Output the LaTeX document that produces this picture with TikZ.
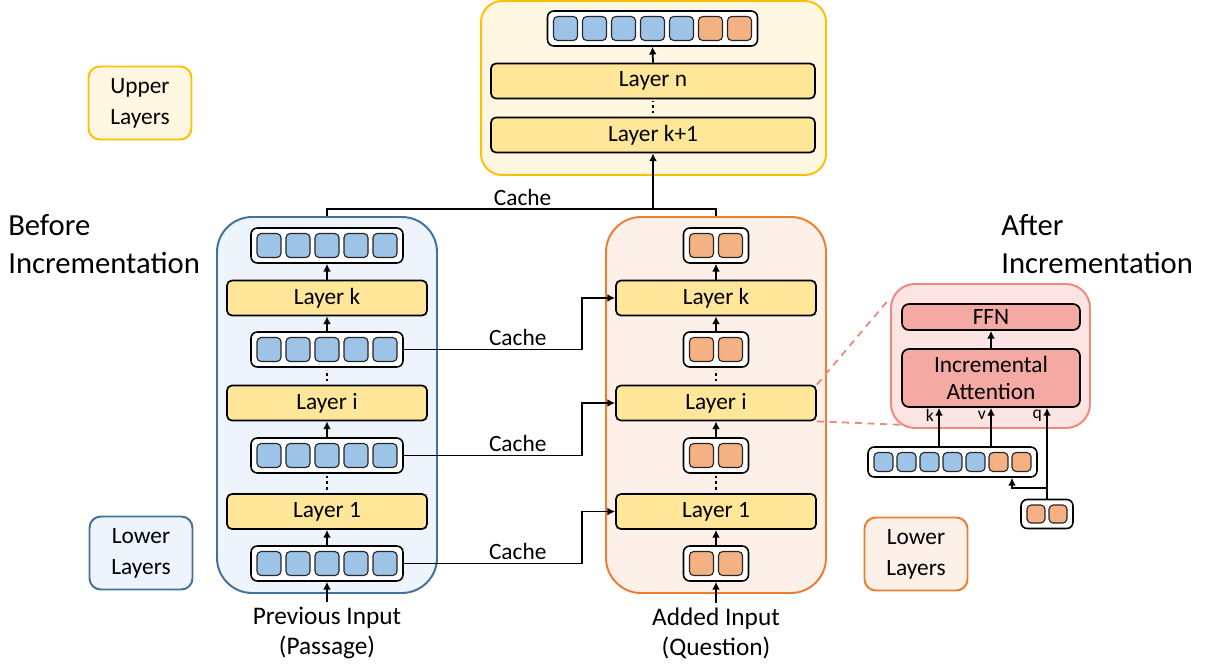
\documentclass[tikz,border=0pt]{standalone}
\usepackage{fontspec}
\setmainfont{Carlito}
\usetikzlibrary{arrows.meta,calc,positioning}

\definecolor{tokbl}{HTML}{9DC3E6}
\definecolor{tokor}{HTML}{F4B183}
\definecolor{layery}{HTML}{FFE699}
\definecolor{blfill}{HTML}{EDF4FB}
\definecolor{blline}{HTML}{41719C}
\definecolor{orfill}{HTML}{FCF0E9}
\definecolor{orline}{HTML}{ED7D31}
\definecolor{upfill}{HTML}{FFF7E2}
\definecolor{upline}{HTML}{FFC000}
\definecolor{pkfill}{HTML}{FBE4E2}
\definecolor{pkline}{HTML}{F0897C}
\definecolor{pkbox}{HTML}{F4A9A3}

\def\pxu{0.025cm}

\tikzset{
  layer/.style={draw, line width=1.2pt, rounded corners=3.5pt, fill=layery,
    minimum width=200*\pxu, minimum height=35*\pxu, inner sep=0pt},
  strip/.style={draw, line width=1.1pt, rounded corners=4.5pt, fill=white, inner sep=0pt},
  tok/.style={draw=black!85, line width=0.8pt, rounded corners=3pt, inner sep=0pt},
  arr/.style={line width=1.25pt, -{Latex[length=5.5pt,width=5.5pt]}},
  conn/.style={line width=1.25pt},
  dotsline/.style={line width=2pt, dash pattern=on 1.8pt off 2.2pt, shorten <=2.5pt, shorten >=1.5pt},
  upbox/.style={draw=upline, fill=upfill, line width=1.4pt, rounded corners=15pt},
  blbox/.style={draw=blline, fill=blfill, line width=1.4pt, rounded corners=25pt},
  orbox/.style={draw=orline, fill=orfill, line width=1.4pt, rounded corners=25pt},
  labbox/.style={line width=1.4pt, rounded corners=8pt, minimum width=103*\pxu,
    minimum height=73*\pxu, align=center},
  pkouter/.style={draw=pkline, fill=pkfill, line width=1.4pt, rounded corners=17pt},
  attbox/.style={draw, fill=pkbox, line width=1.2pt, rounded corners=5pt,
    minimum width=178*\pxu, inner sep=0pt},
  kvq/.style={left, inner sep=3pt, font=\fontsize{12.5pt}{14pt}\selectfont},
  dashln/.style={draw=pkline, line width=1.3pt, dash pattern=on 5pt off 4pt},
  inlab/.style={align=center, font=\fontsize{18pt}{21.3pt}\selectfont},
  title/.style={anchor=west, align=left, inner sep=0pt, font=\fontsize{21.8pt}{27pt}\selectfont}
}

% row of tokens: name, x, y, #blue, #orange, pitch, size
\newcommand{\tokrow}[7]{%
  \pgfmathtruncatemacro{\ntok}{#4+#5}%
  \node[strip, minimum width={(\ntok*#6-#6+#7+12)*\pxu}, minimum height={(#7+11)*\pxu}] (#1) at (#2,#3) {};%
  \foreach \tk in {1,...,\ntok}{%
    \pgfmathsetmacro{\tokx}{#2+(\tk-(\ntok+1)/2)*#6}%
    \ifnum\tk>#4\relax \def\tokcol{tokor}\else \def\tokcol{tokbl}\fi
    \node[tok, fill=\tokcol, minimum size={#7*\pxu}] (#1-\tk) at (\tokx,#3) {};%
  }%
}

\begin{document}
\begin{tikzpicture}[x=\pxu, y=-\pxu, font=\fontsize{16.6pt}{22pt}\selectfont]
\useasboundingbox (0,0) rectangle (1210,671);

% upper layers
\node[upbox, minimum width=345*\pxu, minimum height=174*\pxu] (upper) at (653.5,88) {};
\tokrow{top}{652.5}{28.5}{5}{2}{29}{24}
\node[layer, minimum width=324*\pxu] (ln) at (653,81) {Layer n};
\node[layer, minimum width=324*\pxu] (lk1) at (653,135) {Layer k+1};
\draw[arr] (ln.north) -- (top.south);
\draw[dotsline] (lk1.north) -- (ln.south);

% the two lower stacks
\node[blbox, minimum width=220*\pxu, minimum height=376*\pxu] (pbox) at (327,405) {};
\node[orbox, minimum width=220*\pxu, minimum height=376*\pxu] (abox) at (716,405) {};

\foreach \col/\cx/\nbl/\nor in {p/327/5/0, a/716/0/2}{
  \tokrow{\col s0}{\cx}{563.5}{\nbl}{\nor}{29}{24}
  \tokrow{\col s1}{\cx}{455.5}{\nbl}{\nor}{29}{24}
  \tokrow{\col s2}{\cx}{349.5}{\nbl}{\nor}{29}{24}
  \tokrow{\col s3}{\cx}{245.5}{\nbl}{\nor}{29}{24}
  \node[layer] (\col l1) at (\cx,511.5) {Layer 1};
  \node[layer] (\col li) at (\cx,403) {Layer i};
  \node[layer] (\col lk) at (\cx,298) {Layer k};
  \draw[arr] (\col s0.north) -- (\col l1.south);
  \draw[dotsline] (\col l1.north) -- (\col s1.south);
  \draw[arr] (\col s1.north) -- (\col li.south);
  \draw[dotsline] (\col li.north) -- (\col s2.south);
  \draw[arr] (\col s2.north) -- (\col lk.south);
  \draw[arr] (\col lk.north) -- (\col s3.south);
}

\node[inlab] (pin) at (327,633) {Previous Input\\(Passage)};
\node[inlab] (ain) at (716,633) {Added Input\\(Question)};
\draw[arr] (pin) -- (ps0.south);
\draw[arr] (ain) -- (as0.south);

% caches
\foreach \s/\l in {s0/l1, s1/li, s2/lk}
  \draw[arr] (p\s.east) -- node[above=-1.5pt, pos=0.64] (cache\s) {Cache} ++(178,0) |- (a\l.west);

\coordinate (cjoin) at (653,209);
\draw[conn] (pbox.north) |- node[above=-1.5pt, pos=0.8] (cachetop) {Cache} (cjoin) -| (abox.north);
\draw[arr] (cjoin) -- (lk1.south);

% legend boxes
\node[labbox, draw=upline, fill=upfill] (uplab) at (140,103) {Upper\\Layers};
\node[labbox, draw=blline, fill=blfill] (lowbl) at (141,553) {Lower\\Layers};
\node[labbox, draw=orline, fill=orfill] (lowor) at (916,554) {Lower\\Layers};

\node[title] (before) at (8,244) {Before\\Incrementation};
\node[title] (after) at (1001,244) {After\\Incrementation};

% incremental attention detail
\draw[dashln] (ali.north east) -- ($(890,284)+(0,14)$) coordinate (dtop);
\draw[dashln] (ali.south east) -- ($(890,428)+(16,-3)$) coordinate (dbot);
\node[pkouter, minimum width=199*\pxu, minimum height=144*\pxu] (pink) at (990.5,356) {};
\node[attbox, minimum height=26*\pxu] (ffn) at (991,317) {FFN};
\node[attbox, minimum height=58*\pxu, align=center, font=\fontsize{16.6pt}{19.5pt}\selectfont] (attn) at (991,378) {Incremental\\Attention};
\draw[arr] (attn.north) -- (ffn.south);

\tokrow{ds}{952.5}{462}{5}{2}{23}{19}
\tokrow{ss}{1047}{514}{0}{2}{22}{18}

\coordinate (kx) at (939,0);
\coordinate (vx) at (991,0);
\coordinate (dsin) at (1012,0);
\coordinate (qsplit) at (1047,488);
\draw[arr] (ds.north -| kx) -- node[kvq, pos=0.8] (klab) {k} (attn.south -| kx);
\draw[arr] (ds.north -| vx) -- node[kvq, pos=0.8] (vlab) {v} (attn.south -| vx);
\draw[arr] (ss.north) -- node[kvq, pos=0.91] (qlab) {q} (attn.south -| ss.north);
\draw[arr] (qsplit) -| (ds.south -| dsin);

\end{tikzpicture}
\end{document}
